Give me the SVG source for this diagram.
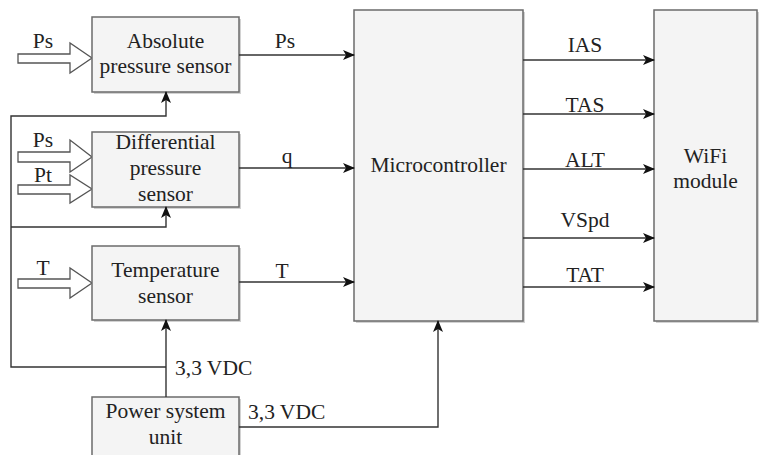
<svg xmlns="http://www.w3.org/2000/svg" width="764" height="455" viewBox="0 0 764 455">
  <style>
    .box { fill: #f4f4f4; stroke: #6b6b6b; stroke-width: 1.5; }
    .shadow { fill: #d2d2d2; }
    text { font-family: "Liberation Serif", "Times New Roman", serif; font-size: 21.5px; fill: #222; }
    .mid { text-anchor: middle; }
    .wire { fill: none; stroke: #333; stroke-width: 1.4; }
    .flow { fill: #fff; stroke: #555; stroke-width: 1.3; }
  </style>
  <defs>
    <marker id="arr" viewBox="0 0 12 10" refX="11" refY="5" markerWidth="12" markerHeight="10" markerUnits="userSpaceOnUse" orient="auto">
      <path d="M0,0 L12,5 L0,10 L3,5 Z" fill="#111"/>
    </marker>
  </defs>

  <rect width="764" height="455" fill="#ffffff"/>

  <!-- input flows (hollow block arrows) -->
  <g id="inputs">
    <path class="flow" d="M18,54 H70 V43 L92,58 L70,73 V63 H18 Z"/>
    <path class="flow" d="M18,152 H70 V140 L92,157 L70,172 V162 H18 Z"/>
    <path class="flow" d="M18,185 H70 V175 L92,189 L70,203 V194 H18 Z"/>
    <path class="flow" d="M18,279 H70 V268 L92,283 L70,298 V288 H18 Z"/>
    <text class="mid" x="43" y="48">Ps</text>
    <text class="mid" x="43" y="147">Ps</text>
    <text class="mid" x="43" y="182">Pt</text>
    <text class="mid" x="43" y="275">T</text>
  </g>

  <g id="abs-sensor">
    <rect class="shadow" x="94" y="19" width="147" height="75"/>
    <rect class="box" x="92" y="17" width="147" height="75"/>
    <text class="mid" x="165.5" y="48">Absolute</text>
    <text class="mid" x="165.5" y="73">pressure sensor</text>
  </g>

  <g id="diff-sensor">
    <rect class="shadow" x="94" y="134" width="147" height="75"/>
    <rect class="box" x="92" y="132" width="147" height="75"/>
    <text class="mid" x="165.5" y="149">Differential</text>
    <text class="mid" x="165.5" y="175">pressure</text>
    <text class="mid" x="165.5" y="201">sensor</text>
  </g>

  <g id="temp-sensor">
    <rect class="shadow" x="94" y="248" width="147" height="74"/>
    <rect class="box" x="92" y="246" width="147" height="74"/>
    <text class="mid" x="165.5" y="277">Temperature</text>
    <text class="mid" x="165.5" y="303">sensor</text>
  </g>

  <g id="power-unit">
    <rect class="shadow" x="94" y="399" width="147" height="70"/>
    <rect class="box" x="92" y="397" width="147" height="70"/>
    <text class="mid" x="165.5" y="418">Power system</text>
    <text class="mid" x="165.5" y="444">unit</text>
  </g>

  <g id="microcontroller">
    <rect class="shadow" x="356" y="12" width="169" height="311"/>
    <rect class="box" x="354" y="10" width="169" height="311"/>
    <text class="mid" x="438.5" y="172">Microcontroller</text>
  </g>

  <g id="wifi-module">
    <rect class="shadow" x="656" y="12" width="103" height="311"/>
    <rect class="box" x="654" y="10" width="103" height="311"/>
    <text class="mid" x="705.5" y="163">WiFi</text>
    <text class="mid" x="705.5" y="188">module</text>
  </g>

  <g id="connectors">
    <!-- sensors to microcontroller -->
    <path class="wire" d="M239,55 H354" marker-end="url(#arr)"/>
    <path class="wire" d="M239,168 H354" marker-end="url(#arr)"/>
    <path class="wire" d="M239,282 H354" marker-end="url(#arr)"/>
    <text class="mid" x="285" y="48">Ps</text>
    <text class="mid" x="287" y="163">q</text>
    <text class="mid" x="282" y="278">T</text>

    <!-- microcontroller to WiFi -->
    <path class="wire" d="M523,60 H654" marker-end="url(#arr)"/>
    <path class="wire" d="M523,114 H654" marker-end="url(#arr)"/>
    <path class="wire" d="M523,169 H654" marker-end="url(#arr)"/>
    <path class="wire" d="M523,238 H654" marker-end="url(#arr)"/>
    <path class="wire" d="M523,287 H654" marker-end="url(#arr)"/>
    <text class="mid" x="585" y="52">IAS</text>
    <text class="mid" x="585" y="112">TAS</text>
    <text class="mid" x="585" y="167">ALT</text>
    <text class="mid" x="585" y="227">VSpd</text>
    <text class="mid" x="585" y="282">TAT</text>

    <!-- power distribution -->
    <path class="wire" d="M166,397 V320" marker-end="url(#arr)"/>
    <path class="wire" d="M166,367 H11 V116 H166 V92" marker-end="url(#arr)"/>
    <path class="wire" d="M11,227 H166 V207" marker-end="url(#arr)"/>
    <path class="wire" d="M239,427 H438 V321" marker-end="url(#arr)"/>
    <text x="175" y="375">3,3 VDC</text>
    <text x="248" y="419">3,3 VDC</text>
  </g>
</svg>
